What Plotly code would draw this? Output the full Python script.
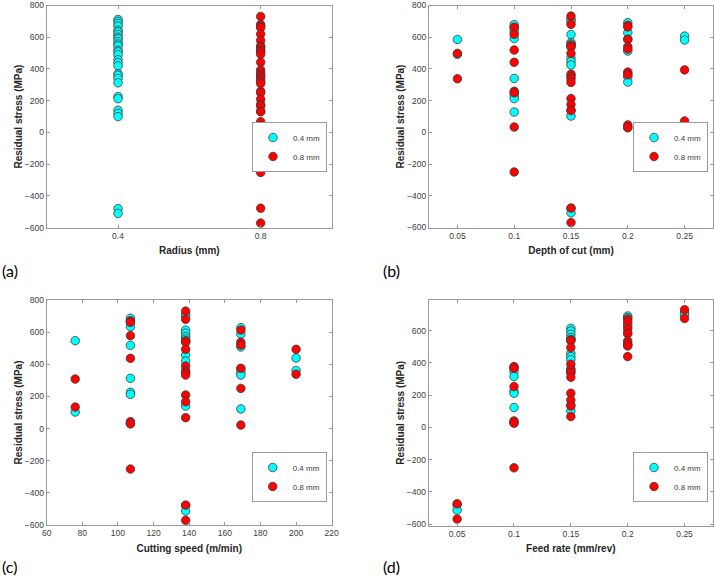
import plotly.graph_objects as go

# ---- data (residual stress, MPa) ----
radius_levels = [0.4, 0.8]
radius_04 = [712, 700, 686, 670, 644, 634, 617, 600, 590, 572, 557, 545, 518, 508,
             490, 458, 440, 420, 370, 360, 340, 313, 226, 213, 140, 120, 100, -480, -510]
radius_08 = [731, 680, 669, 661, 620, 580, 545, 537, 520, 510, 493, 442, 394, 375,
             360, 350, 333, 320, 308, 259, 250, 209, 176, 167, 134, 130, 68, 43, 30,
             22, -252, -477, -571]

depth_levels = [0.05, 0.1, 0.15, 0.2, 0.25]
depth_04 = [[586, 492],
            [679, 660, 638, 592, 340, 234, 213, 128],
            [712, 700, 617, 567, 557, 545, 467, 446, 425, 140, 103, -480, -507],
            [692, 628, 588, 513, 370, 350, 317, 30],
            [607, 582]]
depth_08 = [[498, 338],
            [663, 619, 519, 442, 259, 250, 34, -250],
            [733, 681, 550, 538, 498, 367, 353, 338, 315, 213, 176, 138, -477, -569],
            [675, 665, 586, 540, 525, 380, 363, 47, 30],
            [394, 72]]

speed_levels = [76, 107, 138, 169, 200]
speed_04 = [[547, 103],
            [686, 670, 634, 518, 313, 226, 213, 30],
            [710, 700, 613, 593, 572, 557, 545, 458, 420, 140, -480, -513],
            [628, 588, 508, 370, 350, 333, 122],
            [439, 362]]
speed_08 = [[308, 134],
            [669, 661, 578, 437, 43, 30, -252],
            [731, 680, 545, 537, 493, 389, 360, 350, 333, 209, 167, 68, -476, -571],
            [613, 537, 520, 375, 250, 22],
            [493, 338]]

feed_levels = [0.05, 0.1, 0.15, 0.2, 0.25]
feed_04 = [[-480, -513],
           [370, 346, 315, 226, 212, 123, 30],
           [614, 598, 577, 557, 545, 460, 439, 420, 362, 340, 140, 102],
           [691, 680, 640, 628, 590, 513, 508],
           [712, 701]]
feed_08 = [[-474, -569],
           [377, 367, 253, 40, 26, -251],
           [542, 537, 495, 391, 356, 340, 311, 212, 170, 133, 67],
           [672, 656, 614, 580, 536, 521, 505, 439],
           [730, 676]]

series_names = ["0.4 mm", "0.8 mm"]
series_colors = ["#00FFFF", "#FF0000"]


def expand(levels, groups):
    xs, ys = [], []
    for lv, vals in zip(levels, groups):
        xs += [lv] * len(vals)
        ys += vals
    return xs, ys


W, H = 714, 577
# panel frames in pixels: (left, right, top, bottom)
frames = {
    "a": (46.7, 332, 5.5, 227.7),
    "b": (429, 713, 5.5, 227.5),
    "c": (46.7, 331.7, 300, 525),
    "d": (428.7, 713, 300, 525.7),
}

panels = [
    ("a", [[0.4] * len(radius_04), radius_04], [[0.8] * len(radius_08), radius_08]),
    ("b", expand(depth_levels, depth_04), expand(depth_levels, depth_08)),
    ("c", expand(speed_levels, speed_04), expand(speed_levels, speed_08)),
    ("d", expand(feed_levels, feed_04), expand(feed_levels, feed_08)),
]

fig = go.Figure()
for i, (key, cy, rd) in enumerate(panels):
    n = "" if i == 0 else str(i + 1)
    leg = "legend" + n
    for j, (xs, ys) in enumerate([cy, rd]):
        fig.add_trace(go.Scatter(
            x=xs, y=ys, mode="markers", name=series_names[j],
            xaxis="x" + n, yaxis="y" + n, legend=leg,
            marker=dict(size=8.5, color=series_colors[j],
                        line=dict(width=0.8, color="#3a3a3a")),
            cliponaxis=False,
        ))

tickfont = dict(family="Liberation Sans, Arial", size=8.5, color="#3c3c3c")
titlefont = dict(family="Liberation Sans, Arial", size=10, color="#262626", weight="bold")
axis_common = dict(showline=True, mirror="ticks", linecolor="#9a9a9a", linewidth=1,
                   ticks="inside", ticklen=3, tickcolor="#9a9a9a", showgrid=False,
                   zeroline=False, tickfont=tickfont, automargin=False,
                   ticklabeloverflow="allow")

xtitles = {"a": "Radius (mm)", "b": "Depth of cut (mm)",
           "c": "Cutting speed (m/min)", "d": "Feed rate (mm/rev)"}
labels = {"a": "(a)", "b": "(b)", "c": "(c)", "d": "(d)"}

layout = dict(width=W, height=H, margin=dict(l=0, r=0, t=0, b=0, autoexpand=False),
              paper_bgcolor="white", plot_bgcolor="white", annotations=[])

for i, key in enumerate("abcd"):
    n = "" if i == 0 else str(i + 1)
    l, r, t, b = frames[key]
    xa = dict(axis_common, domain=[l / W, r / W], anchor="y" + n,
              title=dict(text=xtitles[key], font=titlefont, standoff=7))
    ya = dict(axis_common, domain=[1 - b / H, 1 - t / H], anchor="x" + n,
              title=dict(text="Residual stress (MPa)", font=titlefont, standoff=0))
    if key == "a":
        xa.update(range=[0.2, 1.0], tickvals=radius_levels, ticktext=["0.4", "0.8"])
    elif key in ("b", "d"):
        xa.update(range=[0.025, 0.275], tickvals=depth_levels,
                  ticktext=["0.05", "0.1", "0.15", "0.2", "0.25"])
    else:
        xa.update(range=[60, 220], dtick=20, tick0=60)
    if key == "d":
        ya.update(range=[-610, 790], tickvals=[-600, -400, -200, 0, 200, 400, 600])
    else:
        ya.update(range=[-600, 800], dtick=200, tick0=-600)
    layout["xaxis" + n] = xa
    layout["yaxis" + n] = ya

    # legend box in the lower right of each panel
    leg_mid = 147 if key in ("a", "b") else 477
    layout["legend" + n] = dict(
        x=(r - 5) / W, xanchor="right", y=1 - leg_mid / H, yanchor="middle",
        bgcolor="white", bordercolor="#9a9a9a", borderwidth=1,
        font=dict(family="Liberation Sans, Arial", size=8, color="#3c3c3c"),
        tracegroupgap=0, itemwidth=30,
    )
    # panel letter
    lx = 0 if key in ("a", "c") else 381 / W
    ly = 1 - (270 if key in ("a", "b") else 566) / H
    layout["annotations"].append(dict(
        text=labels[key], x=lx, y=ly, xref="paper", yref="paper",
        xanchor="left", yanchor="middle", showarrow=False,
        font=dict(family="Lato, Carlito, sans-serif", size=16, color="black")))

fig.update_layout(**layout)
# drop the default 8px page margin so the figure sits at the window's corner
fig.write_html("out.html", config={"displayModeBar": False},
               post_script="document.body.style.margin='0px';")
